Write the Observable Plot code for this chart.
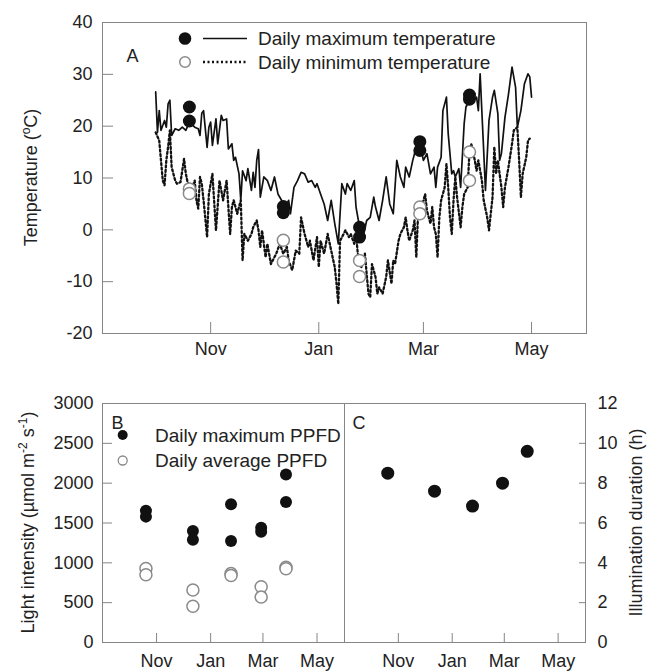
<!DOCTYPE html>
<html><head><meta charset="utf-8">
<script src="https://cdn.jsdelivr.net/npm/d3@7"></script>
<script src="https://cdn.jsdelivr.net/npm/@observablehq/plot@0.6"></script>
<style>
body{margin:0;background:#fff;}
#wrap{position:relative;width:647px;height:671px;overflow:hidden;background:#fff;font-family:"Liberation Sans",Arial,sans-serif;}
#wrap svg{position:absolute;overflow:visible;}
</style></head><body><div id="wrap"></div>
<script>
// ---------- data ----------
// Panel A: daily temperature, day offsets from 1 Oct 2013
const tmaxDay = [0,1,2,3,5,6,7,8,9,11,13,15,17,19,22,24,25,26,27,29,30,31,32,34,35,37,38,40,41,43,44,45,47,48,49,51,52,54,55,56,57,58,59,61,63,65,67,69,71,73,75,76,78,80,82,84,86,88,90,91,93,95,97,99,101,103,105,107,108,110,112,113,115,117,119,121,123,124,126,128,130,132,134,136,138,140,141,143,145,147,149,151,153,155,157,158,159,161,162,164,165,167,168,169,171,172,174,175,177,179,181,182,183,185,186,188,190,191,193,194,195,197,199,201,203,204,206,207,208,210,211,212];
const tmaxVal = [26.6,18.8,23.0,19.2,21.1,19.8,24.3,25.0,18.2,19.5,19.2,19.8,19.2,20.8,19.8,19.5,18.2,22.5,23.0,15.9,19.8,20.8,16.3,21.4,16.6,22.1,21.1,21.4,15.6,16.6,13.4,14.0,10.8,5.7,11.4,9.5,11.8,7.6,11.1,8.2,13.4,15.5,6.3,10.2,9.5,7.6,10.2,6.9,5.7,4.4,5.7,3.1,8.2,9.5,11.1,10.8,9.2,9.5,8.2,8.9,6.9,5.0,1.8,5.7,1.2,-2.7,8.9,6.9,8.9,7.6,9.5,4.4,0.5,-1.4,1.8,2.4,6.3,4.4,1.8,5.7,10.2,5.0,3.1,13.4,10.2,8.2,12.1,10.2,13.4,16.0,16.6,13.4,14.7,10.8,12.1,8.2,12.1,14.0,23.0,25.6,18.5,10.8,11.4,10.2,11.8,8.2,20.5,23.7,25.0,25.0,25.6,23.0,30.1,15.3,7.6,21.1,25.6,26.9,22.4,13.4,14.7,21.7,26.2,31.4,27.5,19.8,23.0,25.6,28.2,30.1,29.5,25.6];
const tminDay = [0,2,4,5,6,7,8,9,11,12,14,16,17,18,20,22,23,24,25,26,27,29,30,32,34,36,38,40,42,43,44,46,48,49,50,52,54,55,57,58,59,60,62,63,65,66,68,70,72,74,75,77,79,81,82,84,86,87,89,91,92,93,95,97,99,101,102,103,104,106,107,109,110,112,113,114,116,118,120,121,122,124,125,126,128,130,131,133,134,135,137,138,140,141,142,143,145,146,147,148,150,152,153,155,156,157,158,159,160,161,163,164,165,166,167,168,169,170,172,173,174,176,177,178,180,181,182,184,185,187,188,190,191,192,193,195,196,197,199,201,202,204,205,206,207,209,210,211];
const tminVal = [18.8,17.2,9.5,8.6,13.4,16.0,19.2,12.1,9.5,8.9,9.2,13.7,10.8,9.2,7.6,9.5,5.7,4.1,10.2,8.9,5.7,-1.4,6.9,10.8,-0.1,9.5,5.7,9.5,-0.8,4.4,5.7,3.1,5.7,-5.9,-0.8,-2.1,-0.8,0.5,1.8,-0.1,-3.3,-0.1,-5.3,-2.7,-6.6,-5.9,-4.6,-2.7,-4.6,-3.3,-5.9,-7.8,-4.0,-4.6,2.4,-0.8,-3.3,-2.1,-5.9,-1.4,-7.2,-2.1,-4.6,-0.8,-4.0,-7.2,-10.4,-14.3,-2.1,-0.8,-0.1,-1.4,-0.8,-2.7,-0.8,-4.6,-7.2,-4.6,-12.3,-13.0,-6.6,-9.1,-12.3,-11.1,-12.3,-9.1,-5.9,-10.4,-5.9,-6.6,-2.1,-0.8,0.5,2.4,-0.1,-2.1,-0.1,1.8,-5.3,3.1,4.4,6.9,3.7,1.2,4.4,0.5,-0.8,-5.3,2.4,5.7,8.2,12.7,8.2,2.4,-0.8,5.7,10.2,6.3,0.5,4.4,6.9,8.2,15.3,16.6,13.4,11.4,13.4,9.5,5.7,2.4,-0.1,6.3,16.0,10.8,13.4,8.2,4.4,8.2,12.1,16.6,19.2,19.8,13.4,6.3,10.8,14.0,17.2,17.6];

// sampling dates and measured values (two replicate days per sampling)
const sampleDates = ["2013-10-20","2013-12-12","2014-01-24","2014-02-27","2014-03-27"];
const tmaxSampleA = [23.7, 4.5, 0.5, 17.0, 26.0];
const tmaxSampleB = [21.0, 3.3, -1.4, 15.3, 25.2];
const tminSampleA = [7.9, -2.0, -5.9, 4.4, 15.0];
const tminSampleB = [7.0, -6.2, -9.0, 3.1, 9.5];
const ppfdMaxA = [1655, 1400, 1735, 1440, 2110];
const ppfdMaxB = [1580, 1290, 1275, 1390, 1765];
const ppfdAvgA = [930, 660, 865, 700, 945];
const ppfdAvgB = [850, 455, 840, 570, 925];
const illumHours = [8.5, 7.6, 6.85, 8.0, 9.6];

const monthTickDates = ["2013-11-01","2014-01-01","2014-03-01","2014-05-01"];
const monthTickLabels = ["Nov","Jan","Mar","May"];
const tempTicks = [-20,-10,0,10,20,30,40];
const lightTicks = [0,500,1000,1500,2000,2500,3000];
const hourTicks = [0,2,4,6,8,10,12];

// ---------- helpers ----------
const FONT = '"Liberation Sans", Arial, sans-serif';
const INK = "#222";
const FRAME = "#858585";
const OPEN = "#8a8a8a";
const start = Date.UTC(2013, 9, 1);
const dayDate = d => new Date(start + d * 864e5);
const xDomain = [new Date("2013-09-01"), new Date("2014-06-01")];
const monthTicks = monthTickDates.map(d => new Date(d));
const fmtMonth = d => monthTickLabels[monthTicks.findIndex(t => +t === +d)];
const fmtNum = d => String(d);

const maxData = tmaxDay.map((d, i) => ({date: dayDate(d), t: tmaxVal[i]}));
const minData = tminDay.map((d, i) => ({date: dayDate(d), t: tminVal[i]}));
const samp = (arrA, arrB) => sampleDates.flatMap((d, i) => [
  {date: new Date(d), v: arrA[i]}, {date: new Date(d), v: arrB[i]}]);
const tmaxPts = samp(tmaxSampleA, tmaxSampleB);
const tminPts = samp(tminSampleA, tminSampleB);
const pMaxPts = samp(ppfdMaxA, ppfdMaxB);
const pAvgPts = samp(ppfdAvgA, ppfdAvgB);
const illumPts = sampleDates.map((d, i) => ({date: new Date(d), v: illumHours[i]}));

const wrap = document.getElementById("wrap");
const baseStyle = {fontFamily: FONT, fontSize: "18px", color: INK, background: "transparent", overflow: "visible"};
const DOTS = "2,2.5";

// ---------- Panel A ----------
const A = Plot.plot({
  width: 647, height: 360,
  marginLeft: 102, marginRight: 61, marginTop: 22, marginBottom: 27,
  style: baseStyle,
  x: {type: "utc", domain: xDomain},
  y: {domain: [-20, 40]},
  marks: [
    Plot.tickX(monthTicks, {x: d => d, stroke: FRAME, insetTop: 300}),
    Plot.tickY(tempTicks, {y: d => d, stroke: FRAME, insetRight: 473}),
    Plot.frame({stroke: FRAME}),
    Plot.axisX({ticks: monthTicks, tickFormat: fmtMonth, tickSize: 0, tickPadding: 9, label: null}),
    Plot.axisY({ticks: tempTicks, tickFormat: fmtNum, tickSize: 0, tickPadding: 10, label: null}),
    Plot.line(minData, {x: "date", y: "t", stroke: "#111", strokeWidth: 2.3, strokeDasharray: DOTS}),
    Plot.line(maxData, {x: "date", y: "t", stroke: "#111", strokeWidth: 1.7}),
    Plot.dot(tminPts, {x: "date", y: "v", r: 6, fill: "white", stroke: OPEN, strokeWidth: 1.5}),
    Plot.dot(tmaxPts, {x: "date", y: "v", r: 6.5, fill: "#111", stroke: "none"}),
    Plot.text(["A"], {frameAnchor: "top-left", dx: 24, dy: 27, text: d => d, textAnchor: "start", fontSize: 18, fill: INK})
  ]
});
A.style.left = "0px"; A.style.top = "0px";
wrap.appendChild(A);
{
  const s = d3.select(A);
  const g = s.append("g").attr("font-family", FONT).attr("font-size", 19).attr("fill", INK).attr("text-anchor", "start");
  g.append("circle").attr("cx", 185).attr("cy", 38.5).attr("r", 6.3).attr("fill", "#111");
  g.append("line").attr("x1", 203).attr("x2", 247).attr("y1", 38.5).attr("y2", 38.5).attr("stroke", "#111").attr("stroke-width", 1.7);
  g.append("text").attr("x", 258).attr("y", 38.5).attr("dy", "0.36em").text("Daily maximum temperature");
  g.append("circle").attr("cx", 185).attr("cy", 62).attr("r", 5.3).attr("fill", "white").attr("stroke", OPEN).attr("stroke-width", 1.5);
  g.append("line").attr("x1", 203).attr("x2", 247).attr("y1", 62).attr("y2", 62).attr("stroke", "#111").attr("stroke-width", 2.3).attr("stroke-dasharray", DOTS);
  g.append("text").attr("x", 258).attr("y", 62).attr("dy", "0.36em").text("Daily minimum temperature");
  const t = s.append("text").attr("font-family", FONT).attr("font-size", 18).attr("fill", INK)
    .attr("text-anchor", "middle").attr("transform", "translate(37,177.5) rotate(-90)");
  t.append("tspan").text("Temperature (");
  t.append("tspan").attr("font-size", 12).attr("dy", -7).text("o");
  t.append("tspan").attr("dy", 7).text("C)");
}

// ---------- Panel B ----------
const B = Plot.plot({
  width: 345, height: 291,
  marginLeft: 102, marginRight: 1, marginTop: 23, marginBottom: 29,
  style: baseStyle,
  x: {type: "utc", domain: xDomain},
  y: {domain: [0, 3000]},
  marks: [
    Plot.tickX(monthTicks, {x: d => d, stroke: FRAME, insetTop: 230}),
    Plot.tickY(lightTicks, {y: d => d, stroke: FRAME, insetRight: 232}),
    Plot.frame({stroke: FRAME}),
    Plot.axisX({ticks: monthTicks, tickFormat: fmtMonth, tickSize: 0, tickPadding: 12, label: null}),
    Plot.axisY({ticks: lightTicks, tickFormat: fmtNum, tickSize: 0, tickPadding: 9, label: null}),
    Plot.dot(pAvgPts, {x: "date", y: "v", r: 6, fill: "white", stroke: OPEN, strokeWidth: 1.5}),
    Plot.dot(pMaxPts, {x: "date", y: "v", r: 6, fill: "#111", stroke: "none"}),
    Plot.text(["B"], {frameAnchor: "top-left", dx: 9, dy: 13, text: d => d, textAnchor: "start", fontSize: 18, fill: INK})
  ]
});
B.style.left = "0px"; B.style.top = "380px";
wrap.appendChild(B);
{
  const s = d3.select(B);
  const g = s.append("g").attr("font-family", FONT).attr("font-size", 19).attr("fill", INK).attr("text-anchor", "start");
  g.append("circle").attr("cx", 122.7).attr("cy", 55).attr("r", 5).attr("fill", "#111");
  g.append("text").attr("x", 155).attr("y", 55).attr("dy", "0.36em").text("Daily maximum PPFD");
  g.append("circle").attr("cx", 122.7).attr("cy", 80.5).attr("r", 4.5).attr("fill", "white").attr("stroke", OPEN).attr("stroke-width", 1.3);
  g.append("text").attr("x", 155).attr("y", 80.5).attr("dy", "0.36em").text("Daily average PPFD");
  const t = s.append("text").attr("font-family", FONT).attr("font-size", 18).attr("fill", INK)
    .attr("text-anchor", "middle").attr("transform", "translate(34,142.5) rotate(-90)");
  t.append("tspan").text("Light intensity (\u00b5mol m");
  t.append("tspan").attr("font-size", 12).attr("dy", -7).text("-2");
  t.append("tspan").attr("dy", 7).text(" s");
  t.append("tspan").attr("font-size", 12).attr("dy", -7).text("-1");
  t.append("tspan").attr("dy", 7).text(")");
}

// ---------- Panel C ----------
const C = Plot.plot({
  width: 347, height: 291,
  marginLeft: 44, marginRight: 62, marginTop: 23, marginBottom: 29,
  style: baseStyle,
  x: {type: "utc", domain: xDomain},
  y: {domain: [0, 12]},
  marks: [
    Plot.tickX(monthTicks, {x: d => d, stroke: FRAME, insetTop: 230}),
    Plot.tickY(hourTicks, {y: d => d, stroke: FRAME, insetLeft: 235}),
    Plot.frame({stroke: FRAME}),
    Plot.axisX({ticks: monthTicks, tickFormat: fmtMonth, tickSize: 0, tickPadding: 12, label: null}),
    Plot.axisY({anchor: "right", ticks: hourTicks, tickFormat: fmtNum, tickSize: 0, tickPadding: 12, label: null}),
    Plot.dot(illumPts, {x: "date", y: "v", r: 6.5, fill: "#111", stroke: "none"}),
    Plot.text(["C"], {frameAnchor: "top-left", dx: 8, dy: 13, text: d => d, textAnchor: "start", fontSize: 18, fill: INK})
  ]
});
C.style.left = "300px"; C.style.top = "380px";
wrap.appendChild(C);
{
  const s = d3.select(C);
  s.append("text").attr("font-family", FONT).attr("font-size", 18).attr("fill", INK)
    .attr("text-anchor", "middle").attr("transform", "translate(342,142.5) rotate(-90)")
    .text("Illumination duration (h)");
}
</script>
</body></html>
